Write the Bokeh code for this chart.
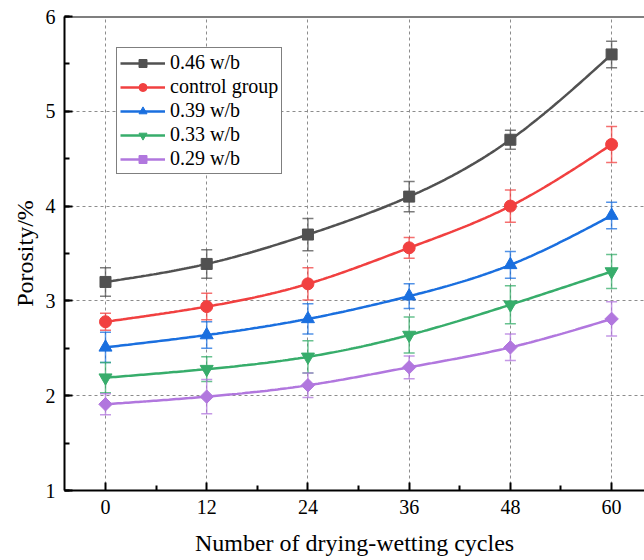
import numpy as np
from bokeh.plotting import figure
from bokeh.models import (ColumnDataSource, Whisker, TeeHead, Legend, LegendItem,
                          FixedTicker, SingleIntervalTicker, Range1d, Span)
from bokeh.embed import file_html
from bokeh.resources import INLINE

# ---- data ----
cycles = [0, 12, 24, 36, 48, 60]
minor_cycles = [6, 18, 30, 42, 54]
series_names = ["0.46 w/b", "control group", "0.39 w/b", "0.33 w/b", "0.29 w/b"]
por_046 = [3.20, 3.39, 3.70, 4.10, 4.70, 5.60]
err_046 = [0.15, 0.15, 0.17, 0.16, 0.10, 0.14]
por_ctrl = [2.78, 2.94, 3.18, 3.56, 4.00, 4.65]
err_ctrl = [0.09, 0.14, 0.17, 0.11, 0.17, 0.19]
por_039 = [2.51, 2.64, 2.81, 3.05, 3.38, 3.90]
err_039 = [0.16, 0.14, 0.16, 0.13, 0.14, 0.14]
por_033 = [2.19, 2.28, 2.41, 2.64, 2.96, 3.31]
err_033 = [0.16, 0.13, 0.17, 0.19, 0.20, 0.18]
por_029 = [1.91, 1.99, 2.11, 2.30, 2.51, 2.81]
err_029 = [0.11, 0.18, 0.13, 0.12, 0.14, 0.18]
y_ticks = [1, 2, 3, 4, 5, 6]

values = [por_046, por_ctrl, por_039, por_033, por_029]
errors = [err_046, err_ctrl, err_039, err_033, err_029]
colors = ["#515151", "#F14040", "#1A6FDF", "#37AD6B", "#B177DE"]
markers = ["square", "circle", "triangle", "inverted_triangle", "square"]
msizes = [11, 12, 13, 13, 9.5]
angles = [0, 0, 0, 0, np.pi / 4]

FONT = "Liberation Serif"


def natural_spline(x, y, n=40):
    """Smooth connecting curve (rendering only) through the measured points."""
    x = np.asarray(x, float)
    y = np.asarray(y, float)
    k = len(x)
    h = np.diff(x)
    A = np.zeros((k, k))
    b = np.zeros(k)
    A[0, 0] = A[-1, -1] = 1
    for i in range(1, k - 1):
        A[i, i - 1] = h[i - 1]
        A[i, i] = 2 * (h[i - 1] + h[i])
        A[i, i + 1] = h[i]
        b[i] = 3 * ((y[i + 1] - y[i]) / h[i] - (y[i] - y[i - 1]) / h[i - 1])
    c = np.linalg.solve(A, b)
    xs, ys = [], []
    for i in range(k - 1):
        bi = (y[i + 1] - y[i]) / h[i] - h[i] * (2 * c[i] + c[i + 1]) / 3
        di = (c[i + 1] - c[i]) / (3 * h[i])
        t = np.linspace(0, h[i], n, endpoint=(i == k - 2))
        xs.extend(x[i] + t)
        ys.extend(y[i] + bi * t + c[i] * t ** 2 + di * t ** 3)
    return xs, ys


p = figure(width=644, height=558,
           x_range=Range1d(-4.86, 63.9), y_range=Range1d(y_ticks[0], y_ticks[-1]),
           output_backend="svg", toolbar_location=None,
           min_border_left=64, min_border_top=16, min_border_right=0, min_border_bottom=68)
p.outline_line_color = None
p.background_fill_color = "white"
p.border_fill_color = "white"

# axes
p.xaxis.ticker = FixedTicker(ticks=cycles, minor_ticks=minor_cycles)
p.yaxis.ticker = SingleIntervalTicker(interval=1, num_minor_ticks=2)
for ax in (p.xaxis[0], p.yaxis[0]):
    ax.axis_line_width = 2
    ax.axis_line_color = "black"
    ax.major_tick_in = 8
    ax.major_tick_out = 0
    ax.minor_tick_in = 5
    ax.minor_tick_out = 0
    ax.major_tick_line_width = 2
    ax.minor_tick_line_width = 2
    ax.major_label_text_font = FONT
    ax.major_label_text_font_size = "20px"
    ax.major_label_text_line_height = 1.0
    ax.major_label_text_color = "black"
    ax.axis_label_text_font = FONT
    ax.axis_label_text_font_size = "24px"
    ax.axis_label_text_line_height = 1.0
    ax.axis_label_text_font_style = "normal"
    ax.axis_label_text_color = "black"
    ax.major_label_standoff = 9
p.xaxis.axis_label = "Number of drying-wetting cycles"
p.yaxis.axis_label = "Porosity/%"
p.xaxis.axis_label_standoff = 13
p.yaxis.axis_label_standoff = 5

# top frame line
p.add_layout(Span(location=y_ticks[-1], dimension="width", line_color="black", line_width=2))

# grid
p.xgrid.ticker = FixedTicker(ticks=cycles)
p.ygrid.ticker = FixedTicker(ticks=y_ticks)
for g in (p.xgrid[0], p.ygrid[0]):
    g.grid_line_color = "#8c8c8c"
    g.grid_line_dash = "3 3"
    g.grid_line_width = 1

items = []
for name, vals, errs, col, mk, ms, ang in zip(series_names, values, errors, colors,
                                              markers, msizes, angles):
    src = ColumnDataSource(dict(x=cycles, y=vals,
                                up=[v + e for v, e in zip(vals, errs)],
                                lo=[v - e for v, e in zip(vals, errs)]))
    wh = Whisker(base="x", upper="up", lower="lo", source=src,
                 line_color=col, line_alpha=0.75, line_width=1.5,
                 upper_head=TeeHead(size=11, line_color=col, line_alpha=0.75, line_width=1.5),
                 lower_head=TeeHead(size=11, line_color=col, line_alpha=0.75, line_width=1.5))
    p.add_layout(wh)
    sx, sy = natural_spline(cycles, vals)
    lr = p.line(sx, sy, line_color=col, line_width=2.5)
    sr = p.scatter("x", "y", source=src, marker=mk, size=ms, angle=ang,
                   fill_color=col, line_color=col)
    items.append(LegendItem(label=name, renderers=[lr, sr]))

legend = Legend(items=items, location=(52, 316),
                label_text_font=FONT, label_text_font_size="20px",
                label_text_line_height=1.0,
                label_text_color="black",
                glyph_width=45, glyph_height=20, label_height=20, label_standoff=5,
                spacing=1, padding=3, margin=0,
                border_line_color="black", border_line_width=1.2,
                background_fill_alpha=1.0)
p.add_layout(legend, "center")

open("out.html", "w").write(file_html(p, INLINE))
